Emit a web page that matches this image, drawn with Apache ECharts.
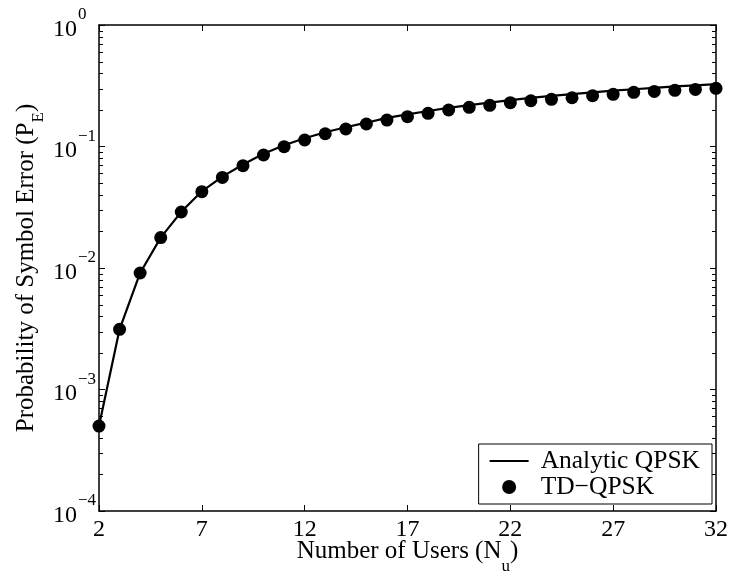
<!DOCTYPE html>
<html>
<head>
<meta charset="utf-8">
<script src="https://cdn.jsdelivr.net/npm/echarts@6/dist/echarts.min.js"></script>
<style>
  html, body { margin: 0; padding: 0; background: #ffffff; }
  #chart { width: 730px; height: 575px; }
</style>
</head>
<body>
<div id="chart"></div>
<script>
// Number of users on the x axis
const users = [2, 3, 4, 5, 6, 7, 8, 9, 10, 11, 12, 13, 14, 15, 16, 17,
               18, 19, 20, 21, 22, 23, 24, 25, 26, 27, 28, 29, 30, 31, 32];

// Analytic QPSK symbol error probability
const analyticQpsk = [5.0e-4, 3.13e-3, 9.1e-3, 0.0178, 0.0290, 0.0428, 0.0565, 0.0710,
                      0.0870, 0.1025, 0.117, 0.131, 0.144, 0.157, 0.172, 0.184,
                      0.196, 0.208, 0.219, 0.230, 0.241, 0.251, 0.261, 0.270,
                      0.279, 0.288, 0.296, 0.304, 0.312, 0.319, 0.326];

// Simulated TD-QPSK symbol error probability
const tdQpsk = [5.0e-4, 3.13e-3, 9.1e-3, 0.0178, 0.0289, 0.0425, 0.0557, 0.0695,
                0.0851, 0.0997, 0.1131, 0.1274, 0.1393, 0.1532, 0.165, 0.1759,
                0.1876, 0.1998, 0.2102, 0.2184, 0.2293, 0.238, 0.2446, 0.252,
                0.262, 0.269, 0.279, 0.284, 0.290, 0.295, 0.301];

// Tick labels
const xTickLabels = ['2', '7', '12', '17', '22', '27', '32'];
const yTickExponents = [-4, -3, -2, -1, 0];

const FONT = 'Liberation Serif';
const categories = users.map(String);
const isXTick = (idx, val) => xTickLabels.indexOf(String(val)) !== -1;

const chart = echarts.init(document.getElementById('chart'), null, { renderer: 'canvas' });

const supRich = {
  b: { fontFamily: FONT, fontSize: 24, color: '#000', lineHeight: 22, padding: [9, 0, 0, 0] },
  s: { fontFamily: FONT, fontSize: 17, color: '#000', lineHeight: 17, padding: [0, 0, 20, 1] }
};

function powerLabel(v) {
  const e = Math.round(Math.log10(v));
  if (yTickExponents.indexOf(e) === -1) return '';
  const exp = e < 0 ? '\u2212' + Math.abs(e) : String(e);
  return '{b|10}{s|' + exp + '}';
}

const axisLineStyle = { color: '#000', width: 1.5 };
const tickStyle = { color: '#000', width: 1 };

const option = {
  animation: false,
  backgroundColor: '#ffffff',
  grid: { left: 99, right: 14, top: 25, bottom: 64, containLabel: false, outerBoundsMode: 'none' },
  xAxis: [
    {
      type: 'category',
      data: categories,
      boundaryGap: false,
      position: 'bottom',
      axisLine: { show: true, lineStyle: axisLineStyle },
      axisTick: { show: true, inside: true, length: 6, interval: isXTick, lineStyle: tickStyle },
      axisLabel: { show: true, interval: isXTick, margin: 7, fontFamily: FONT, fontSize: 24, color: '#000' },
      splitLine: { show: false },
      name: '{a|Number of Users (N}{u|u}{a|)}',
      nameLocation: 'middle',
      nameGap: 28,
      nameMoveOverlap: false,
      nameTextStyle: {
        rich: {
          a: { fontFamily: FONT, fontSize: 25, color: '#000', lineHeight: 25 },
          u: { fontFamily: FONT, fontSize: 17, color: '#000', lineHeight: 17, padding: [30, 0, 0, 0] }
        }
      }
    },
    {
      type: 'category',
      data: categories,
      boundaryGap: false,
      position: 'top',
      axisLine: { show: true, lineStyle: axisLineStyle },
      axisTick: { show: true, inside: true, length: 6, interval: isXTick, lineStyle: tickStyle },
      axisLabel: { show: false },
      splitLine: { show: false }
    }
  ],
  yAxis: [
    {
      type: 'log',
      logBase: 10,
      min: 1e-4,
      max: 1,
      position: 'left',
      axisLine: { show: true, lineStyle: axisLineStyle },
      axisTick: { show: true, inside: true, length: 6, lineStyle: tickStyle },
      axisLabel: { show: true, align: 'left', margin: 46, formatter: powerLabel, rich: supRich },
      splitLine: { show: false },
      name: '{a|Probability of Symbol Error (P}{e|E}{a|)}',
      nameLocation: 'middle',
      nameGap: 60,
      nameMoveOverlap: false,
      nameTextStyle: {
        rich: {
          a: { fontFamily: FONT, fontSize: 25, color: '#000', lineHeight: 25 },
          e: { fontFamily: FONT, fontSize: 17, color: '#000', lineHeight: 17, padding: [24, 0, 0, 0] }
        }
      }
    },
    {
      type: 'log',
      logBase: 10,
      min: 1e-4,
      max: 1,
      position: 'right',
      axisLine: { show: true, lineStyle: axisLineStyle },
      axisTick: { show: true, inside: true, length: 6, lineStyle: tickStyle },
      axisLabel: { show: false },
      splitLine: { show: false }
    }
  ],
  legend: {
    orient: 'vertical',
    right: 18,
    bottom: 71,
    backgroundColor: '#ffffff',
    borderColor: '#000',
    borderWidth: 1,
    borderRadius: 0,
    padding: [4, 12, 4, 11],
    itemGap: 0,
    itemWidth: 39,
    itemHeight: 14,
    symbolKeepAspect: true,
    textStyle: { fontFamily: FONT, fontSize: 25.5, lineHeight: 25, color: '#000', padding: [0, 0, 0, 7] },
    data: [
      { name: 'Analytic QPSK', icon: 'path://M0,0H39V2.2H0Z' },
      { name: 'TD\u2212QPSK', icon: 'circle' }
    ]
  },
  series: [
    {
      name: 'Analytic QPSK',
      type: 'line',
      xAxisIndex: 0,
      yAxisIndex: 0,
      data: analyticQpsk,
      symbol: 'none',
      showSymbol: false,
      lineStyle: { color: '#000', width: 2.2 },
      itemStyle: { color: '#000' },
      z: 2
    },
    {
      name: 'TD\u2212QPSK',
      type: 'scatter',
      xAxisIndex: 0,
      yAxisIndex: 0,
      data: tdQpsk,
      symbol: 'circle',
      symbolSize: 13,
      itemStyle: { color: '#000', opacity: 1 },
      z: 3
    }
  ]
};

chart.setOption(option);

// Minor ticks at 2..9 x 10^k on both vertical axes, placed by the log scale
function drawMinorTicks() {
  const xLeft = chart.convertToPixel({ xAxisIndex: 0 }, categories[0]);
  const xRight = chart.convertToPixel({ xAxisIndex: 0 }, categories[categories.length - 1]);
  const elements = [];
  for (let i = 0; i < yTickExponents.length - 1; i++) {
    const base = Math.pow(10, yTickExponents[i]);
    for (let k = 2; k <= 9; k++) {
      const y = Math.round(chart.convertToPixel({ yAxisIndex: 0 }, k * base)) + 0.5;
      elements.push({ type: 'line', silent: true, z: 10,
        shape: { x1: xLeft, y1: y, x2: xLeft + 4, y2: y },
        style: { stroke: '#000', lineWidth: 1 } });
      elements.push({ type: 'line', silent: true, z: 10,
        shape: { x1: xRight, y1: y, x2: xRight - 4, y2: y },
        style: { stroke: '#000', lineWidth: 1 } });
    }
  }
  chart.setOption({ graphic: elements });
}
drawMinorTicks();
</script>
</body>
</html>
